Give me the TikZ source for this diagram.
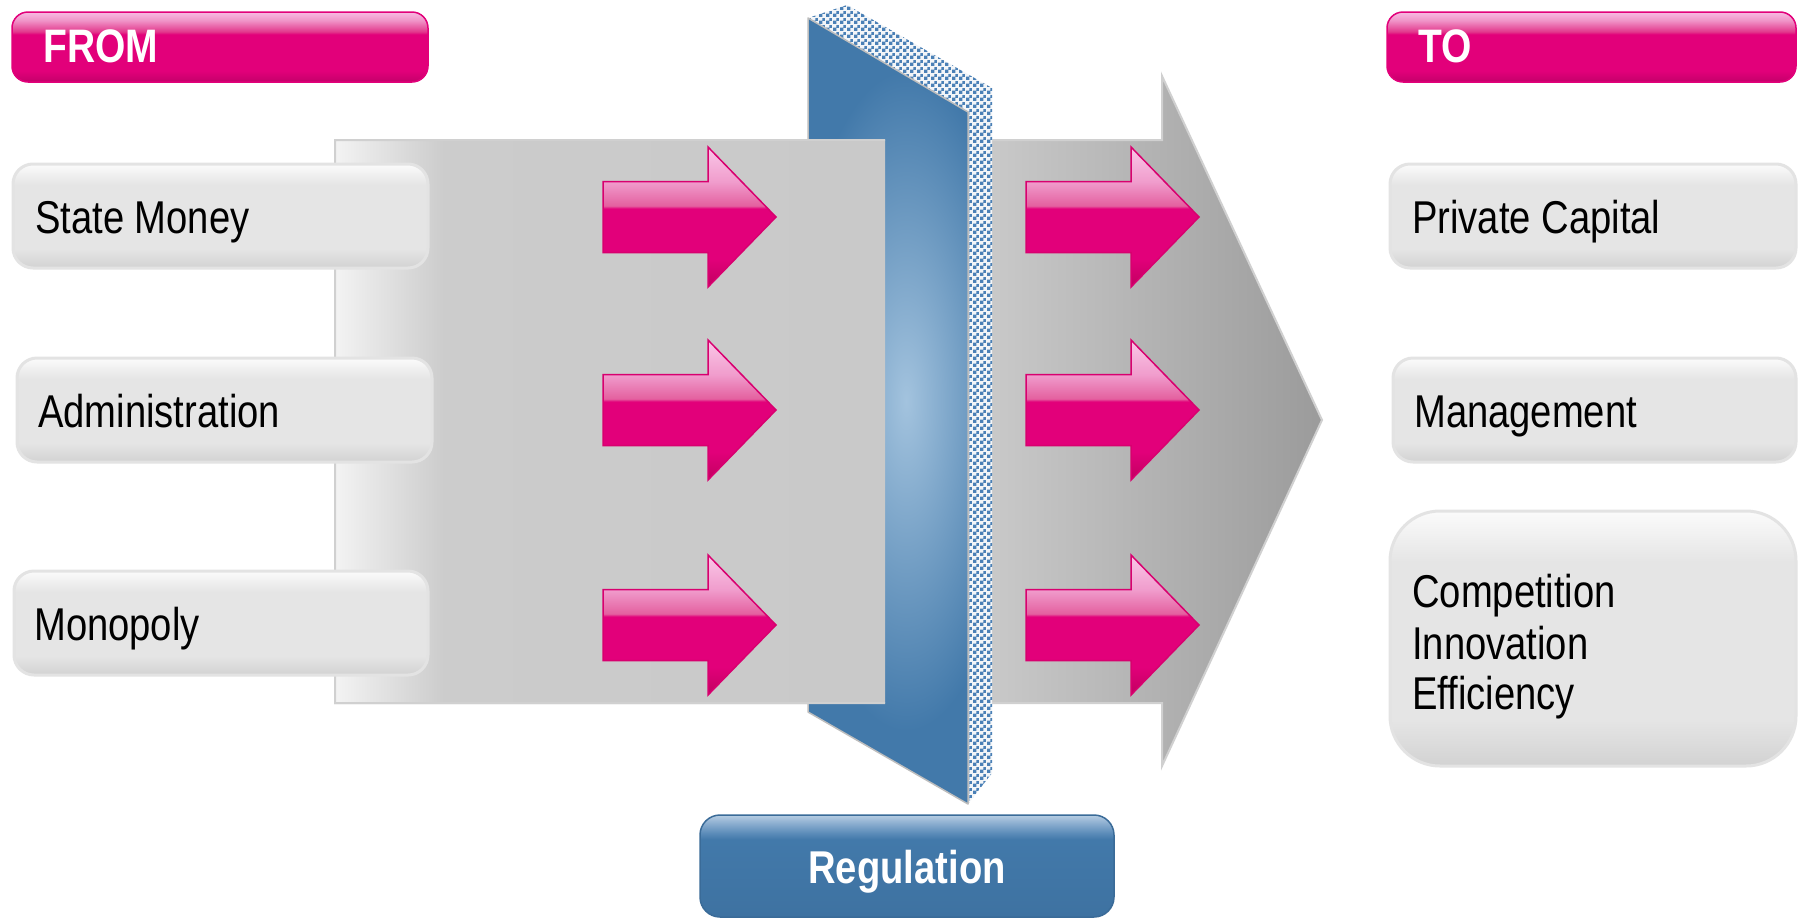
\documentclass[tikz,border=0pt]{standalone}
\usepackage{fontspec}
\newfontfamily\tfont[FakeStretch=0.83]{Liberation Sans}
\usetikzlibrary{patterns}
\definecolor{mag}{HTML}{E2007A}
\definecolor{magedge}{HTML}{D8006F}
\definecolor{magdk}{HTML}{C10060}
\definecolor{magmid}{HTML}{E4609F}
\definecolor{maglt}{HTML}{F09CCC}
\definecolor{magtop}{HTML}{FAC8E8}
\definecolor{hdk}{HTML}{C4006A}
\definecolor{hmid}{HTML}{E2388C}
\definecolor{hlt}{HTML}{F094C8}
\definecolor{htop}{HTML}{F7BCE2}
\definecolor{wallblue}{HTML}{4279AA}
\definecolor{walllight}{HTML}{A3C3DE}
\definecolor{dotblue}{HTML}{4A80B6}
\definecolor{regtop}{HTML}{B7CEE3}
\definecolor{regmid}{HTML}{8CAED0}
\definecolor{regbnd}{HTML}{5A8BB8}
\definecolor{regdk}{HTML}{3E72A1}
\definecolor{regedge}{HTML}{3A6B98}
\definecolor{gb1}{HTML}{FBFBFB}
\definecolor{gb2}{HTML}{E5E5E5}
\definecolor{gb3}{HTML}{D2D2D2}
\definecolor{boxedge}{HTML}{E3E3E3}
\definecolor{ga1}{HTML}{F3F3F3}
\definecolor{ga2}{HTML}{CCCCCC}
\definecolor{ga3}{HTML}{C8C8C8}
\definecolor{ga4}{HTML}{9B9B9B}
\definecolor{gaedge}{HTML}{D0D0D0}
\definecolor{walledge}{HTML}{BDBDBD}
\definecolor{dotbg}{HTML}{F2F5F8}
\pgfdeclareverticalshading{pinkgloss}{100bp}{color(0bp)=(magdk); color(25bp)=(magdk); color(35bp)=(mag); color(53bp)=(mag); color(54bp)=(magmid); color(62.5bp)=(maglt); color(75bp)=(magtop); color(100bp)=(magtop)}
\pgfdeclareverticalshading{hdrgloss}{100bp}{color(0bp)=(hdk); color(25bp)=(hdk); color(33bp)=(mag); color(59bp)=(mag); color(61bp)=(hmid); color(69bp)=(hlt); color(75bp)=(htop); color(100bp)=(htop)}
\pgfdeclareverticalshading{reggloss}{100bp}{color(0bp)=(regdk); color(25bp)=(regdk); color(63bp)=(wallblue); color(66bp)=(regbnd); color(71bp)=(regmid); color(75bp)=(regtop); color(100bp)=(regtop)}
\pgfdeclareverticalshading{graybox}{100bp}{color(0bp)=(gb3); color(25bp)=(gb3); color(34bp)=(gb2); color(65bp)=(gb2); color(75bp)=(gb1); color(100bp)=(gb1)}
\pgfdeclarehorizontalshading{grayarrow}{100bp}{color(0bp)=(ga1); color(25bp)=(ga1); color(30.5bp)=(ga2); color(58.5bp)=(ga3); color(75bp)=(ga4); color(100bp)=(ga4)}
\pgfdeclarepatternformonly{wdots}{\pgfpointorigin}{\pgfpoint{7pt}{7pt}}{\pgfpoint{7pt}{7pt}}{%
  \pgfpathrectangle{\pgfpoint{0.2pt}{0.2pt}}{\pgfpoint{3.6pt}{3.6pt}}%
  \pgfpathrectangle{\pgfpoint{3.7pt}{3.7pt}}{\pgfpoint{3.1pt}{3.1pt}}%
  \pgfusepath{fill}}
\tikzset{
  hdr/.style={shade, shading=hdrgloss, draw=mag, line width=1.5, rounded corners=16, inner sep=0, minimum height=70},
  gbox/.style={shade, shading=graybox, draw=boxedge, line width=3, rounded corners=20, inner sep=0, minimum height=104},
  regbox/.style={shade, shading=reggloss, draw=regedge, line width=1.5, rounded corners=20, inner sep=0},
  lbl/.style={font=\tfont\fontsize{46}{50}\selectfont, inner sep=0, anchor=base west, text=black},
  hlbl/.style={font=\tfont\bfseries\fontsize{47}{50}\selectfont, inner sep=0, anchor=base west, text=white},
  reglbl/.style={font=\tfont\bfseries\fontsize{46}{50}\selectfont, inner sep=0, anchor=base, text=white},
  pinkarr/.style={shade, shading=pinkgloss, draw=magedge, line width=1.5},
  grayarr/.style={shade, shading=grayarrow, draw=gaedge, line width=2},
}
\begin{document}
\begin{tikzpicture}[x=1pt, y=-1pt]
\useasboundingbox (0,0) rectangle (1798,919);
\fill[white] (0,0) rectangle (1798,919);
% big gray arrow (behind the wall)
\path[grayarr] (335,140) -- (1162,140) -- (1162,76) -- (1322,420) -- (1162,766) -- (1162,703) -- (335,703) -- cycle;
% wall: dotted top and side faces
\fill[dotbg] (808,18) -- (847,5) -- (992,88) -- (992,773) -- (968,804) -- (968,112) -- cycle;
\fill[pattern=wdots, pattern color=dotblue] (808,18) -- (847,5) -- (992,88) -- (992,773) -- (968,804) -- (968,112) -- cycle;
% wall: front face
\begin{scope}
\clip (808,18) -- (968,112) -- (968,804) -- (808,712) -- cycle;
\fill[wallblue] (800,10) rectangle (980,810);
\shade[inner color=walllight, outer color=wallblue] (906,401) ellipse [x radius=115, y radius=330];
\end{scope}
\draw[walledge, line width=1.5, line join=round] (808,18) -- (968,112) -- (968,804) -- (808,712) -- cycle;
% part of the gray arrow in front of the wall
\begin{scope}
\clip (325,130) rectangle (885,712);
\path[grayarr] (335,140) -- (1162,140) -- (1162,76) -- (1322,420) -- (1162,766) -- (1162,703) -- (335,703) -- cycle;
\end{scope}
% pink arrows
\foreach \x in {603,1026}{
  \foreach \y in {217,410,625}{
    \path[pinkarr] (\x,\y-35.5) -- (\x+105,\y-35.5) -- (\x+105,\y-70) -- (\x+173,\y) -- (\x+105,\y+70) -- (\x+105,\y+35.5) -- (\x,\y+35.5) -- cycle;
  }
}
% headers
\node[hdr, minimum width=416] (from) at (220,47) {};
\node[hlbl] (fromt) at (43,62) {FROM};
\node[hdr, minimum width=409] (to) at (1591.5,47) {};
\node[hlbl] (tot) at (1418,62) {TO};
% left boxes
\node[gbox, minimum width=415] (sm) at (220.5,216) {};
\node[lbl] (smt) at (35,233) {State Money};
\node[gbox, minimum width=415] (adm) at (224.5,410) {};
\node[lbl] (admt) at (38,427) {Administration};
\node[gbox, minimum width=414] (mon) at (221,623) {};
\node[lbl] (mont) at (34,640) {Monopoly};
% right boxes
\node[gbox, minimum width=406] (pc) at (1593,216) {};
\node[lbl] (pct) at (1412,233) {Private Capital};
\node[gbox, minimum width=403] (mg) at (1594.5,410) {};
\node[lbl] (mgt) at (1414,427) {Management};
\node[gbox, minimum width=406, minimum height=255, rounded corners=50] (cie) at (1593,638.5) {};
\node[lbl] (cie1) at (1412,607) {Competition};
\node[lbl] (cie2) at (1412,659) {Innovation};
\node[lbl] (cie3) at (1412,709) {Efficiency};
% regulation
\node[regbox, minimum width=414, minimum height=102] (reg) at (907,866) {};
\node[reglbl] (regt) at (907,883) {Regulation};
\end{tikzpicture}
\end{document}
